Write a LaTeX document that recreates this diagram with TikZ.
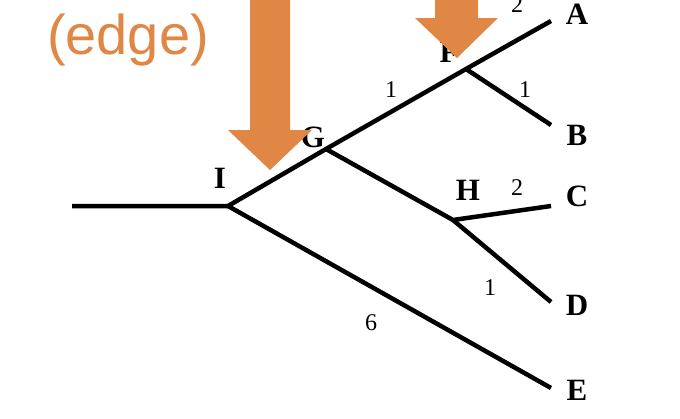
\documentclass[tikz,border=0pt]{standalone}
\usepackage{fontspec}
\setmainfont{Liberation Serif}
\newfontfamily\arial{Liberation Sans}
\definecolor{org}{HTML}{E08745}
\begin{document}
\begin{tikzpicture}[x=1pt,y=-1pt,
  br/.style={line width=4.5pt},
  lab/.style={font=\fontsize{31}{31}\selectfont\bfseries,inner sep=0pt},
  num/.style={font=\fontsize{24}{24}\selectfont,inner sep=0pt},
  arr/.style={fill=org,draw=none}]
\useasboundingbox (0,0) rectangle (680,418);
\coordinate (R) at (72,206);
\coordinate (I) at (228,206);
\coordinate (G) at (326,149);
\coordinate (F) at (466,69);
\coordinate (H) at (453,220);
\coordinate (A) at (551,21);
\coordinate (B) at (551,125);
\coordinate (C) at (551,206);
\coordinate (D) at (551,302);
\coordinate (E) at (551,388);
\draw[br] (R) -- (I) -- (G) -- (F) -- (A);
\draw[br] (F) -- (B);
\draw[br] (G) -- (H) -- (C);
\draw[br] (H) -- (D);
\draw[br] (I) -- (E);
\node[lab] (lA) at (577,14) {A};
\node[lab] (lB) at (577,135) {B};
\node[lab] (lC) at (577,196) {C};
\node[lab] (lD) at (577,305) {D};
\node[lab] (lE) at (577,390) {E};
\node[lab] (lI) at (220,178) {I};
\node[lab] (lG) at (313,137) {G};
\node[lab] (lH) at (468,190) {H};
\node[lab] (lF) at (449,52) {F};
\node[num] (n1) at (391,90) {1};
\node[num] (n2) at (525,90) {1};
\node[num] (n3) at (517,5) {2};
\node[num] (n4) at (517,188) {2};
\node[num] (n5) at (490,288) {1};
\node[num] (n6) at (371,323) {6};
\fill[arr] (250,0) -- (290,0) -- (290,130) -- (312,130) -- (270,170) -- (228,130) -- (250,130) -- cycle;
\fill[arr] (435,-5) -- (478,-5) -- (478,18) -- (498,18) -- (457,58) -- (415,18) -- (435,18) -- cycle;
\node[font=\arial\fontsize{56}{56}\selectfont,text=org,inner sep=0pt] (edge) at (128,40) {(edge)};
\end{tikzpicture}
\end{document}
